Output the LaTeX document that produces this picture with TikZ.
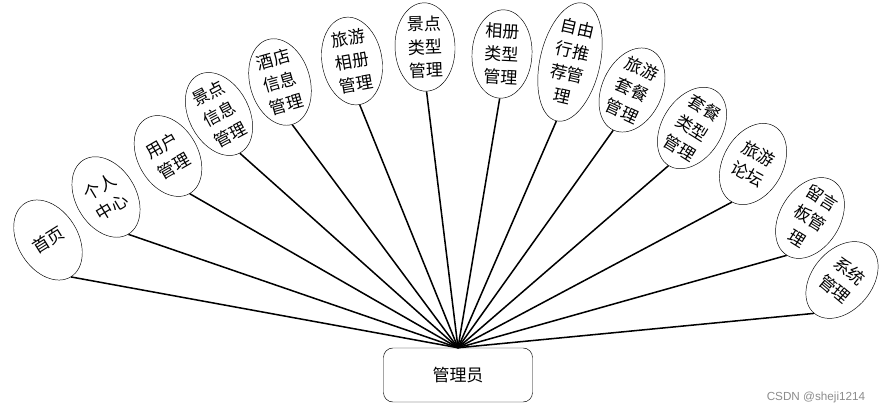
\documentclass[tikz,border=0pt]{standalone}
\usepackage{fontspec}
\setmainfont{Noto Sans CJK SC}
\newfontfamily\markfont{Liberation Sans}
\usetikzlibrary{shapes.geometric}

\begin{document}
\begin{tikzpicture}[
    x=0.03cm, y=-0.03cm,
    func/.style={ellipse, draw, thin, inner sep=0pt, minimum width=1.8cm, minimum height=2.6cm, align=center, font=\fontsize{14.5}{20}\selectfont},
    role/.style={rectangle, draw, thin, rounded corners=8pt, minimum width=4.47cm, minimum height=1.62cm, font=\fontsize{14.5}{16}\selectfont},
    link/.style={line width=1.3pt}
]
    \useasboundingbox (0,0) rectangle (894,414);

    % Nodes
    \node[role] (admin) at (458,375) {管理员};
    \node[func, rotate=32] (home) at (48,240) {首页};
    \node[func, rotate=31] (self) at (106,197) {个人\\中心};
    \node[func, rotate=30] (user) at (168,156) {用户\\管理};
    \node[func, rotate=28] (spotinfo) at (219,114) {景点\\信息\\管理};
    \node[func, rotate=16] (hotel) at (280,82) {酒店\\信息\\管理};
    \node[func, rotate=10] (album) at (352,61) {旅游\\相册\\管理};
    \node[func, rotate=2] (spottype) at (425,47) {景点\\类型\\管理};
    \node[func, rotate=-3] (albumtype) at (502,54) {相册\\类型\\管理};
    \node[func, rotate=-13] (freetour) at (570,62) {自由\\行推\\荐管\\理};
    \node[func, rotate=-25] (package) at (632,90) {旅游\\套餐\\管理};
    \node[func, rotate=-32] (packtype) at (692,128) {套餐\\类型\\管理};
    \node[func, rotate=-29] (forum) at (753,164) {旅游\\论坛};
    \node[func, rotate=-32] (board) at (810,218) {留言\\板管\\理};
    \node[func, rotate=-40] (system) at (842,280) {系统\\管理};
    \node[font=\markfont\fontsize{10}{12}\selectfont, text=black!45] (mark) at (816,397) {CSDN @sheji1214};

    % Links
    \draw[link] (admin.north) -- (home.south);
    \draw[link] (admin.north) -- (self.south);
    \draw[link] (admin.north) -- (user.south);
    \draw[link] (admin.north) -- (spotinfo.south);
    \draw[link] (admin.north) -- (hotel.south);
    \draw[link] (admin.north) -- (album.south);
    \draw[link] (admin.north) -- (spottype.south);
    \draw[link] (admin.north) -- (albumtype.south);
    \draw[link] (admin.north) -- (freetour.south);
    \draw[link] (admin.north) -- (package.south);
    \draw[link] (admin.north) -- (packtype.south);
    \draw[link] (admin.north) -- (forum.south);
    \draw[link] (admin.north) -- (board.south);
    \draw[link] (admin.north) -- (system.south);
\end{tikzpicture}
\end{document}
